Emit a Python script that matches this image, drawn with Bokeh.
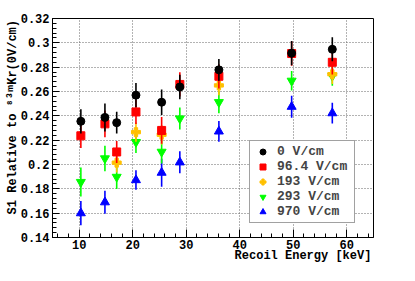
from bokeh.plotting import figure
from bokeh.models import FixedTicker, Legend, LegendItem
from bokeh.embed import file_html
from bokeh.resources import INLINE

# ---------------- data ----------------
energy = [10.3, 14.8, 17.0, 20.6, 25.4, 28.8, 36.1, 49.7, 57.3]

s1_0 = [0.2355, 0.2387, 0.2344, 0.2570, 0.2512, 0.2637, 0.2778, 0.2915, 0.2947]
err_0 = [0.010, 0.0115, 0.009, 0.010, 0.0105, 0.010, 0.009, 0.010, 0.0098]

s1_96 = [0.2236, 0.2334, 0.2103, 0.2432, 0.2280, 0.2658, 0.2725, 0.2912, 0.2840]
err_96 = [0.010, 0.011, 0.009, 0.010, 0.011, 0.010, 0.010, 0.010, 0.010]

energy_193 = [17.0, 20.6, 25.4, 36.1, 57.3]
s1_193 = [0.2015, 0.2266, 0.2245, 0.2650, 0.2742]
err_193 = [0.008, 0.008, 0.008, 0.008, 0.008]

s1_293 = [0.1856, 0.2050, 0.1898, 0.2184, 0.2104, 0.2378, 0.2512, 0.2688, 0.2728]
err_293 = [0.012, 0.0105, 0.010, 0.009, 0.0095, 0.009, 0.009, 0.008, 0.008]

energy_970 = [10.3, 14.8, 20.6, 25.4, 28.8, 36.1, 49.7, 57.3]
s1_970 = [0.1600, 0.1690, 0.1872, 0.1933, 0.2018, 0.2272, 0.2475, 0.2422]
err_970 = [0.010, 0.0095, 0.008, 0.0115, 0.009, 0.0085, 0.009, 0.0085]

series_labels = ["0 V/cm", "96.4 V/cm", "193 V/cm", "293 V/cm", "970 V/cm"]

x_ticks = [10, 20, 30, 40, 50, 60]
x_tick_labels = ["10", "20", "30", "40", "50", "60"]
y_ticks = [0.14, 0.16, 0.18, 0.2, 0.22, 0.24, 0.26, 0.28, 0.3, 0.32]
y_tick_labels = ["0.14", "0.16", "0.18", "0.2", "0.22", "0.24", "0.26", "0.28", "0.3", "0.32"]

x_label = "Recoil Energy [keV]"
y_label = "S1 Relative to \u2078\u00b3\u1d50Kr(0V/cm)"

FONT = "Liberation Mono"
NBSP = "\u00a0"

# ---------------- figure ----------------
p = figure(width=399, height=265, x_range=(5, 65), y_range=(0.14, 0.32),
           output_backend="svg", toolbar_location=None,
           min_border_left=52, min_border_right=26, min_border_top=18, min_border_bottom=27)

p.outline_line_color = "black"
p.outline_line_width = 1
p.background_fill_color = "white"
p.border_fill_color = "white"

p.xaxis.ticker = FixedTicker(ticks=x_ticks, minor_ticks=[6 + 2 * i for i in range(30)])
p.yaxis.ticker = FixedTicker(ticks=y_ticks, minor_ticks=[0.14 + 0.004 * i for i in range(46)])
p.xaxis.major_label_overrides = dict(zip(x_ticks, x_tick_labels))
p.yaxis.major_label_overrides = dict(zip(y_ticks, y_tick_labels))

for ax in (p.xaxis, p.yaxis):
    ax.major_label_text_font = FONT
    ax.major_label_text_font_style = "bold"
    ax.major_label_text_font_size = "12px"
    ax.major_label_text_color = "black"
    ax.axis_line_color = "black"
    ax.major_tick_line_color = "black"
    ax.minor_tick_line_color = "black"
    ax.major_tick_out = 0
    ax.minor_tick_out = 0
    ax.major_label_standoff = 3
    ax.axis_label_text_font = FONT
    ax.axis_label_text_font_style = "bold"
    ax.axis_label_text_font_size = "12px"
    ax.axis_label_text_color = "black"

# centred labels, shifted toward the axis end with leading non-breaking spaces
p.xaxis.axis_label = NBSP * 25 + x_label
p.yaxis.axis_label = NBSP * 3 + y_label
p.xaxis.major_label_standoff = 2
p.xaxis.axis_label_standoff = -3
p.yaxis.axis_label_standoff = -2

p.xaxis.major_tick_in = 8
p.xaxis.minor_tick_in = 4
p.yaxis.major_tick_in = 7
p.yaxis.minor_tick_in = 4

for g in (p.xgrid, p.ygrid):
    g.grid_line_color = "#666666"
    g.grid_line_dash = "1 2"
    g.grid_line_width = 1

# ---------------- series ----------------
def add_series(xs, ys, errs, color, marker, size):
    lo = [y - e for y, e in zip(ys, errs)]
    hi = [y + e for y, e in zip(ys, errs)]
    p.segment(x0=xs, y0=lo, x1=xs, y1=hi, line_color=color, line_width=1.6)
    return p.scatter(x=xs, y=ys, marker=marker, size=size, fill_color=color,
                     line_color=color)

r970 = add_series(energy_970, s1_970, err_970, "#0000ff", "triangle", 9)
r293 = add_series(energy, s1_293, err_293, "#00ff00", "inverted_triangle", 9)
r193 = add_series(energy_193, s1_193, err_193, "#ffc000", "plus", 9)
r96 = add_series(energy, s1_96, err_96, "#ff0000", "square", 8)
r0 = add_series(energy, s1_0, err_0, "black", "circle", 8)

legend = Legend(items=[LegendItem(label=series_labels[0], renderers=[r0]),
                       LegendItem(label=series_labels[1], renderers=[r96]),
                       LegendItem(label=series_labels[2], renderers=[r193]),
                       LegendItem(label=series_labels[3], renderers=[r293]),
                       LegendItem(label=series_labels[4], renderers=[r970])],
                location=(197, 14))
legend.label_text_font = FONT
legend.label_text_font_style = "bold"
legend.label_text_font_size = "13px"
legend.padding = 3
legend.spacing = 0
legend.margin = 0
legend.glyph_width = 19
legend.glyph_height = 15
legend.label_height = 15
legend.label_width = 74
legend.label_standoff = 5
legend.border_line_color = "#444444"
legend.border_line_width = 1
legend.background_fill_alpha = 1
p.add_layout(legend, "center")

open("out.html", "w").write(file_html(p, INLINE))
